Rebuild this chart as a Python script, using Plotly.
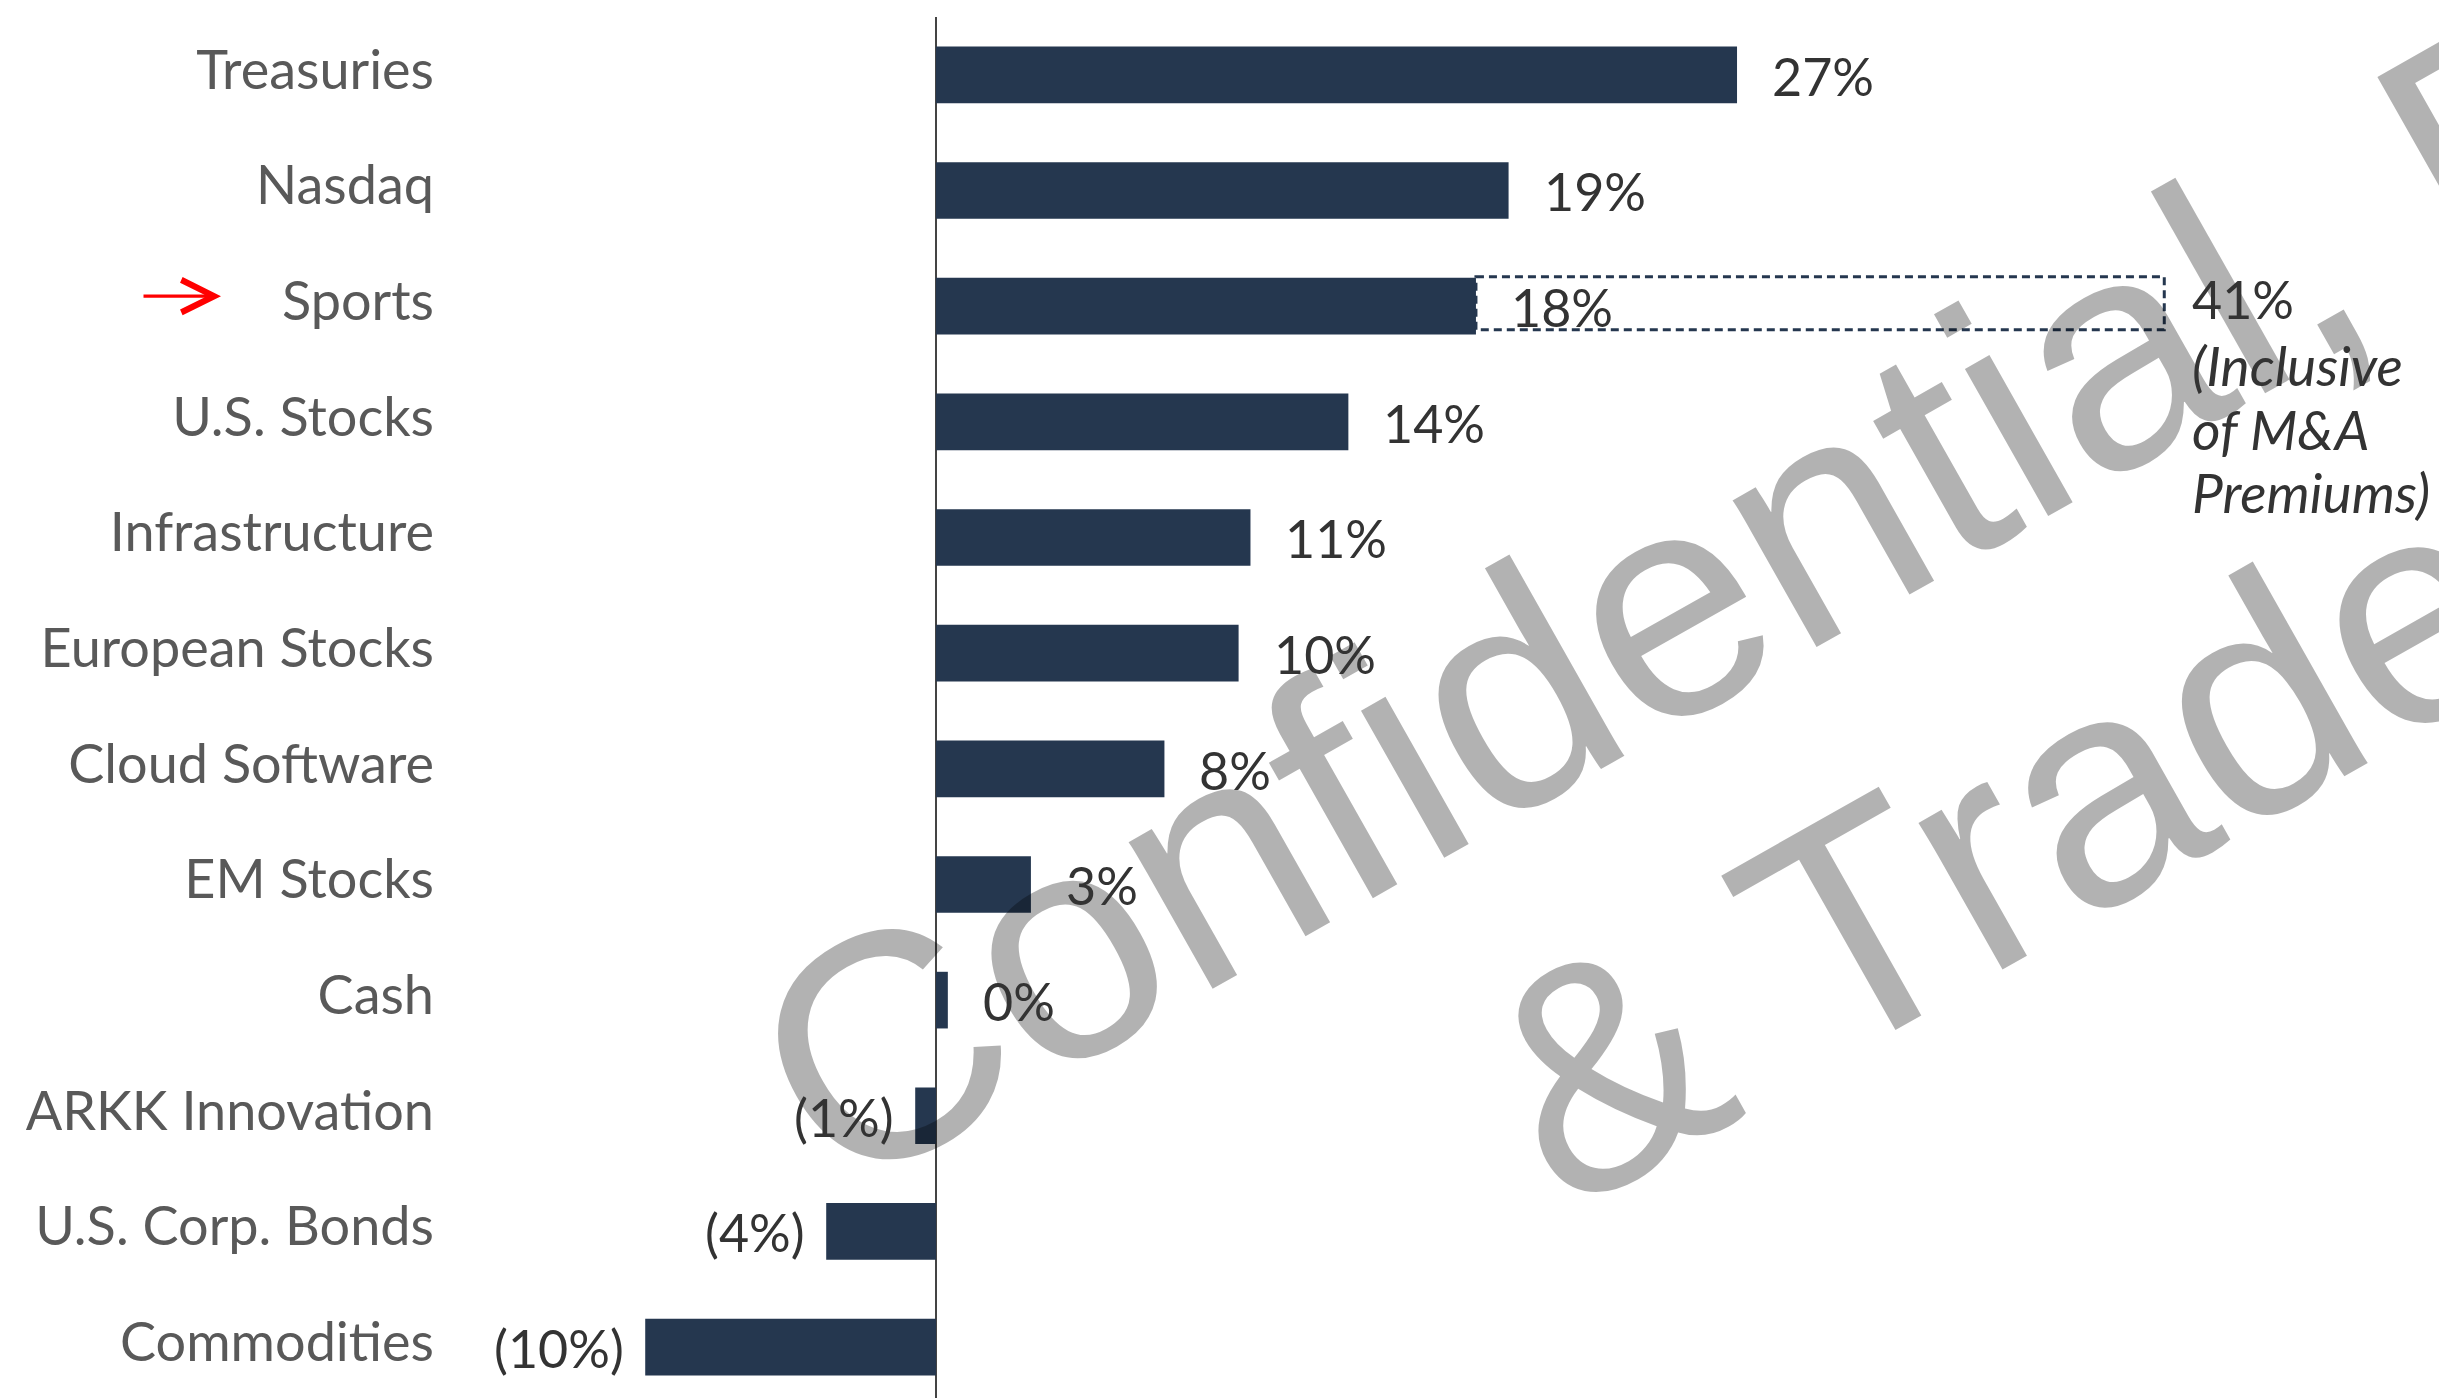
import math
import plotly.graph_objects as go

# ---------------- data ----------------
categories = ["Treasuries", "Nasdaq", "Sports", "U.S. Stocks", "Infrastructure",
              "European Stocks", "Cloud Software", "EM Stocks", "Cash",
              "ARKK Innovation", "U.S. Corp. Bonds", "Commodities"]
returns = [27.0, 19.3, 18.2, 13.9, 10.6, 10.2, 7.7, 3.2, 0.4, -0.7, -3.7, -9.8]
return_labels = ["27%", "19%", "18%", "14%", "11%", "10%", "8%", "3%", "0%",
                 "(1%)", "(4%)", "(10%)"]
highlight_category = "Sports"
sports_total = 41.4
sports_total_label = "41%"
sports_note = ["(Inclusive", "of M&A", "Premiums)"]
watermark_lines = ["Confidential, Proprietary", "& Trade Secret"]

# ---------------- styling ----------------
W, H = 2439, 1398
ML, MR, MT, MB = 450, 0, 17, 0
BAR_COLOR = "#25374F"
CAT_COLOR = "#595959"
LBL_COLOR = "#333333"
FONT = "Lato, 'Noto Sans', sans-serif"
FS = 52
CAT_FS = 54
NOTE_FS = 55
BAR_W = 0.49
X_RANGE = [-16.38, 50.66]
Y_RANGE = [11.44, -0.5]

plot_w = W - ML - MR
plot_h = H - MT - MB


def px_to_paper(px, py):
    return (px - ML) / plot_w, 1 - (py - MT) / plot_h


fig = go.Figure()
fig.add_trace(go.Bar(
    x=returns, y=categories, orientation="h",
    marker=dict(color=BAR_COLOR, line=dict(width=0)),
    width=BAR_W, hoverinfo="skip", showlegend=False,
))

annotations = []
for cat, val, lab in zip(categories, returns, return_labels):
    pos = val >= 0
    annotations.append(dict(
        x=val, y=cat, xref="x", yref="y", text=lab, showarrow=False,
        xanchor="left" if pos else "right", yanchor="middle",
        xshift=33 if pos else -19, yshift=-1,
        font=dict(family=FONT, size=FS, color=LBL_COLOR),
    ))

# 41% note (each line placed separately for tighter line spacing)
hi = categories.index(highlight_category)
hv = returns[hi]
annotations.append(dict(
    x=sports_total, y=highlight_category, xref="x", yref="y", text=sports_total_label,
    showarrow=False, xanchor="left", yanchor="middle", align="left",
    xshift=26, yshift=7,
    font=dict(family=FONT, size=FS, color=LBL_COLOR),
))
for k, line in enumerate(sports_note):
    annotations.append(dict(
        x=sports_total, y=highlight_category, xref="x", yref="y",
        text="<i>%s</i>" % line,
        showarrow=False, xanchor="left", yanchor="middle", align="left",
        xshift=26, yshift=7 - 66 - 63.5 * k,
        font=dict(family=FONT, size=NOTE_FS, color=LBL_COLOR),
    ))

# red arrow pointing at Sports
ax_head, _ = px_to_paper(221, 0)
annotations.append(dict(
    x=ax_head, y=highlight_category, xref="paper", yref="y", text="",
    showarrow=True, ax=-79, ay=0, axref="pixel", ayref="pixel",
    arrowhead=5, arrowwidth=3.2, arrowsize=2.0, arrowcolor="#FF0000",
    standoff=0, yshift=10,
))

shapes = []
# dashed extension box (inclusive of M&A premiums)
shapes.append(dict(
    type="rect", xref="x", yref="y",
    x0=hv, x1=sports_total, y0=hi - BAR_W / 2 - 0.01, y1=hi + BAR_W / 2 - 0.04,
    line=dict(color=BAR_COLOR, width=3, dash="8px,5px"),
    fillcolor="rgba(0,0,0,0)", layer="above",
))

# watermark: translucent black over the chart
ang = math.radians(29.5)
ux, uy = math.cos(ang), -math.sin(ang)
starts = [(857, 1236), (1584, 1250)]
for txt, (sx, sy) in zip(watermark_lines, starts):
    x0, y0 = px_to_paper(sx, sy)
    x1, y1 = px_to_paper(sx + 1000 * ux, sy + 1000 * uy)
    shapes.append(dict(
        type="line", xref="paper", yref="paper", x0=x0, y0=y0, x1=x1, y1=y1,
        line=dict(color="rgba(0,0,0,0)", width=0), layer="above",
        label=dict(text=txt, textposition="start", xanchor="left", yanchor="bottom",
                   padding=0,
                   font=dict(family="'Liberation Sans', Arial, sans-serif",
                             size=320, color="rgba(0,0,0,0.3)")),
    ))

fig.update_layout(
    width=W, height=H,
    margin=dict(l=ML, r=MR, t=MT, b=MB, pad=0),
    paper_bgcolor="white", plot_bgcolor="rgba(0,0,0,0)",
    showlegend=False,
    annotations=annotations, shapes=shapes,
    xaxis=dict(range=X_RANGE, showgrid=False, showticklabels=False, ticks="",
               zeroline=True, zerolinecolor="#444444", zerolinewidth=2,
               showline=False, fixedrange=True),
    yaxis=dict(range=Y_RANGE, type="category", categoryorder="array",
               categoryarray=categories, showgrid=False, zeroline=False,
               showline=False, ticks="", ticklabelstandoff=15, ticklabelshift=5,
               tickfont=dict(family=FONT, size=CAT_FS, color=CAT_COLOR),
               fixedrange=True),
)

fig.write_html("out.html", config={"displayModeBar": False})
